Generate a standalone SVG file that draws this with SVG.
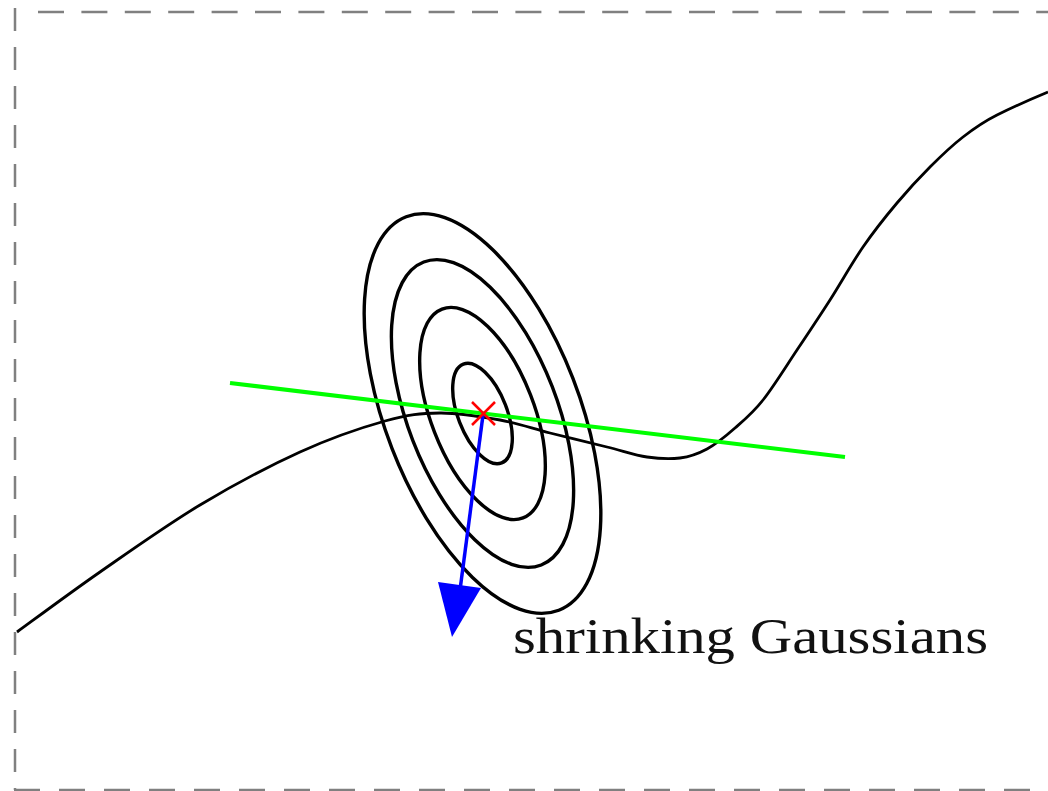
<svg xmlns="http://www.w3.org/2000/svg" width="1048" height="791" viewBox="0 0 1048 791">
  <style>
    .frame { stroke: #808080; stroke-width: 2.5; fill: none; }
    .contour { stroke: #000; stroke-width: 3.4; fill: none; }
    .label { font-family: "Liberation Serif", "DejaVu Serif", serif; font-size: 51px; fill: #111; }
  </style>
  <rect width="1048" height="791" fill="#fff"/>
  <g id="frame">
    <line class="frame" x1="38" y1="12" x2="1048" y2="12" stroke-dasharray="26 17.4"/>
    <line class="frame" x1="15" y1="8" x2="15" y2="790" stroke-dasharray="23 16"/>
    <line class="frame" x1="14" y1="790" x2="1048" y2="790" stroke-dasharray="26 19"/>
  </g>
  <g id="curve">
    <path fill="none" stroke="#000" stroke-width="2.8" d="M17,632 C30.8,622 69.5,593.2 100,572 C130.5,550.8 166.7,525 200,505 C233.3,485 269.2,466 300,452 C330.8,438 361.7,427.5 385,421 C408.3,414.5 420.8,413.2 440,413 C459.2,412.8 481.7,416.7 500,420 C518.3,423.3 532.2,428.5 550,433 C567.8,437.5 590.8,443 607,447 C623.2,451 634.8,455.2 647,457 C659.2,458.8 670,459.3 680,458 C690,456.7 697.8,454 707,449 C716.2,444 725.7,436.2 735,428 C744.3,419.8 752.7,413 763,400 C773.3,387 785.8,366.7 797,350 C808.2,333.3 819,317.2 830,300 C841,282.8 851.8,263.2 863,247 C874.2,230.8 885.8,216.3 897,203 C908.2,189.7 919,178 930,167 C941,156 951.8,145.7 963,137 C974.2,128.3 984,121.5 997,115 C1012,107.5 1036,97 1048,92"/>
  </g>
  <g id="gaussians" transform="translate(482.5,413.5) rotate(68.8)">
    <ellipse class="contour" rx="211" ry="97"/>
    <ellipse class="contour" rx="162.5" ry="74.7"/>
    <ellipse class="contour" rx="112" ry="51.5"/>
    <ellipse class="contour" rx="53" ry="24.5"/>
  </g>
  <g id="tangent">
    <line x1="230" y1="383" x2="845" y2="457" stroke="#00ff00" stroke-width="4"/>
  </g>
  <g id="arrow">
    <line x1="483" y1="415" x2="460" y2="590" stroke="#0000ff" stroke-width="3.5"/>
    <polygon points="438,582 481,588 452,637" fill="#0000ff"/>
  </g>
  <g id="mean">
    <line x1="472" y1="402" x2="495" y2="425" stroke="#ff0000" stroke-width="2.5"/>
    <line x1="495" y1="402" x2="472" y2="425" stroke="#ff0000" stroke-width="2.5"/>
  </g>
  <g id="label">
    <text class="label" x="513" y="653" textLength="475" lengthAdjust="spacingAndGlyphs">shrinking Gaussians</text>
  </g>
</svg>
